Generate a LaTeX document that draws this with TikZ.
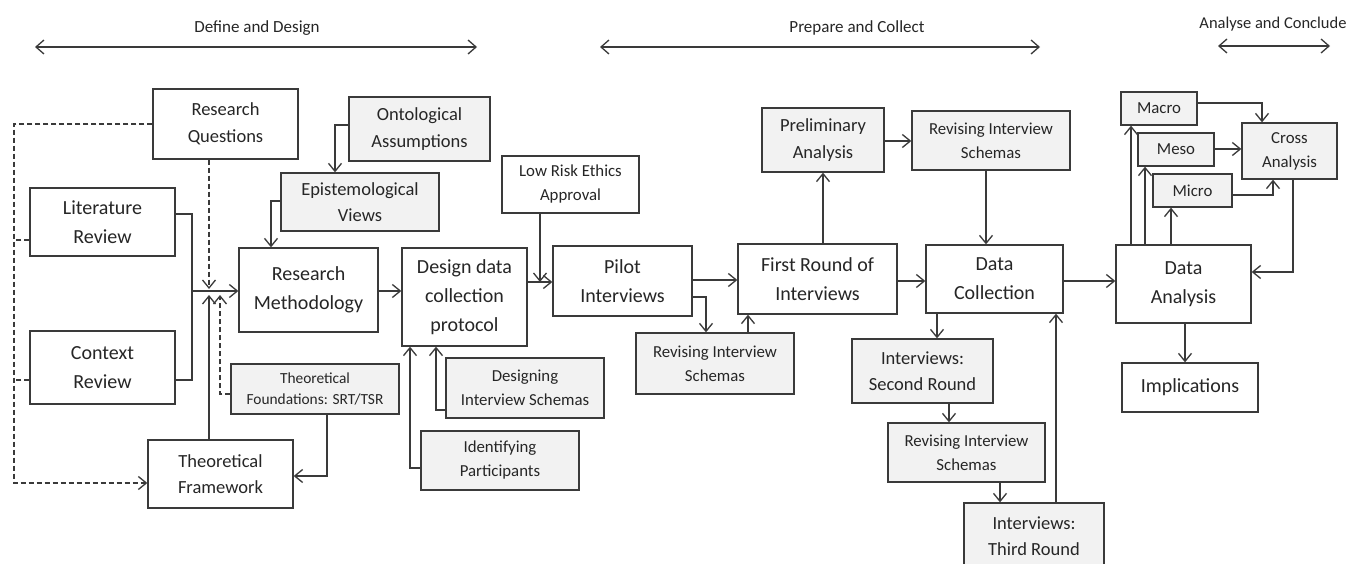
\documentclass[tikz,border=0pt]{standalone}
\usepackage{fontspec}
\setmainfont{Carlito}
\usetikzlibrary{arrows.meta}
\definecolor{edge}{HTML}{3A3A3A}
\definecolor{shade}{HTML}{F2F2F2}
\definecolor{ink}{HTML}{262626}

\tikzset{
  box/.style={draw=edge, line width=1.3pt, fill=white, align=center, inner sep=0pt, text=ink},
  graybox/.style={box, fill=shade},
  fL/.style={font=\fontsize{20}{29}\selectfont},
  fM/.style={font=\fontsize{18.5}{26.5}\selectfont},
  fS/.style={font=\fontsize{16.8}{24}\selectfont},
  fXS/.style={font=\fontsize{15.4}{21}\selectfont},
  plain/.style={draw=edge, line width=1.3pt},
  link/.style={plain, -{Straight Barb[length=8pt,width=13pt]}},
  dplain/.style={plain, dash pattern=on 5pt off 3pt},
  dlink/.style={link, dash pattern=on 5pt off 3pt},
  hdr/.style={font=\fontsize{17}{20}\selectfont, text=ink},
  span/.style={draw=edge, line width=1.3pt, {Straight Barb[length=8pt,width=14pt]}-{Straight Barb[length=8pt,width=14pt]}}
}

\begin{document}
\begin{tikzpicture}[x=1pt,y=-1pt]
\useasboundingbox (0,0) rectangle (1347,564);
\fill[white] (0,0) rectangle (1347,564);

% phase headers
\node[hdr] (hdefine) at (257,28) {Define and Design};
\node[hdr] (hprepare) at (857,28) {Prepare and Collect};
\node[hdr, font=\fontsize{16.5}{20}\selectfont] (hanalyse) at (1273,24) {Analyse and Conclude};
\coordinate (d1) at (35,47);   \coordinate (d2) at (477,47);
\coordinate (p1) at (600,47);  \coordinate (p2) at (1040,47);
\coordinate (a1) at (1218,46); \coordinate (a2) at (1330,46);
\draw[span] (d1) -- (d2);
\draw[span] (p1) -- (p2);
\draw[span] (a1) -- (a2);

% define and design
\node[box, fM, minimum width=145, minimum height=70] (rq) at (225.5,124) {Research\\Questions};
\node[box, fL, minimum width=145, minimum height=68] (lit) at (102.5,222) {Literature\\Review};
\node[box, fL, minimum width=145, minimum height=73] (ctx) at (102.5,367.5) {Context\\Review};
\node[box, fM, minimum width=145, minimum height=68] (tf) at (220.5,474) {Theoretical\\Framework};
\node[graybox, fXS, minimum width=168, minimum height=50] (tfd) at (315,389) {Theoretical\\Foundations: SRT/TSR};
\node[box, fL, minimum width=139, minimum height=84] (rm) at (308.5,290) {Research\\Methodology};
\node[graybox, fM, minimum width=158, minimum height=58] (ev) at (360,202) {Epistemological\\Views};
\node[graybox, fM, minimum width=141, minimum height=64] (oa) at (419.5,129) {Ontological\\Assumptions};
\node[box, fL, minimum width=125, minimum height=98] (ddc) at (464.5,297) {Design data\\collection\\protocol};
\node[graybox, fS, minimum width=158, minimum height=60] (dis) at (525,388) {Designing\\Interview Schemas};
\node[graybox, fS, minimum width=158, minimum height=59] (idp) at (500,460.5) {Identifying\\Participants};

% prepare and collect
\node[box, fS, minimum width=137, minimum height=57] (lre) at (570.5,184.5) {Low Risk Ethics\\Approval};
\node[box, fL, minimum width=139, minimum height=70] (pil) at (622.5,281) {Pilot\\Interviews};
\node[graybox, fS, minimum width=158, minimum height=61] (ris1) at (715,363.5) {Revising Interview\\Schemas};
\node[box, fL, minimum width=159, minimum height=70] (fr) at (817.5,279) {First Round of\\Interviews};
\node[graybox, fM, minimum width=122, minimum height=64] (pa) at (823,140) {Preliminary\\Analysis};
\node[graybox, fS, minimum width=158, minimum height=59] (ris2) at (991,140.5) {Revising Interview\\Schemas};
\node[box, fL, minimum width=137, minimum height=68] (dc) at (994.5,279) {Data\\Collection};
\node[graybox, fM, minimum width=141, minimum height=64] (isr) at (922.5,371) {Interviews:\\Second Round};
\node[graybox, fS, minimum width=157, minimum height=59] (ris3) at (966.5,452.5) {Revising Interview\\Schemas};
\node[graybox, fM, minimum width=140, minimum height=66] (itr) at (1034,536) {Interviews:\\Third Round};

% analyse and conclude
\node[box, fL, minimum width=135, minimum height=78] (da) at (1183.5,284) {Data\\Analysis};
\node[box, fL, minimum width=136, minimum height=49] (imp) at (1190,387.5) {Implications};
\node[graybox, fS, minimum width=76, minimum height=33] (mac) at (1159,108.5) {Macro};
\node[graybox, fS, minimum width=76, minimum height=33] (mes) at (1176,149.5) {Meso};
\node[graybox, fS, minimum width=79, minimum height=33] (mic) at (1192.5,190.5) {Micro};
\node[graybox, fS, minimum width=95, minimum height=56] (cra) at (1289.5,151) {Cross\\Analysis};

% dashed feed into the theoretical framework
\coordinate (dashx) at (14,0);
\draw[dlink] (rq.west) -| (dashx |- 0,483) -- (tf.west |- 0,483);
\draw[dplain] (lit.west |- 0,240) -- (dashx |- 0,240);
\draw[dplain] (ctx.west |- 0,380) -- (dashx |- 0,380);

% reviews merge into the methodology
\coordinate (busx) at (192,0);
\draw[plain] (lit.east |- 0,214) -| (busx |- 0,380) -- (ctx.east |- 0,380);
\draw[link] (busx |- 0,291) -- (rm.west |- 0,291);
\draw[dlink] (rq.south -| 209,0) -- (209,289);
\draw[link] (tf.north -| 209,0) -- (209,295);
\draw[dlink] (tfd.west |- 0,394) -| (220,295);
\draw[link] (tfd.south -| 327,0) |- (tf.east |- 0,476);
\draw[link] (oa.west |- 0,125) -| (ev.north -| 335,0);
\draw[link] (ev.west |- 0,201) -| (rm.north -| 271,0);
\draw[link] (rm.east |- 0,291) -- (ddc.west |- 0,291);
\draw[link] (dis.west |- 0,410) -| (ddc.south -| 436,0);
\draw[link] (idp.west |- 0,468) -| (ddc.south -| 410,0);

% piloting and collection
\draw[link] (ddc.east |- 0,282) -- (pil.west |- 0,282);
\draw[link] (lre.south -| 540,0) -- (540,282);
\draw[link] (pil.east |- 0,280) -- (fr.west |- 0,280);
\draw[link] (pil.east |- 0,297) -| (ris1.north -| 706,0);
\draw[link] (ris1.north -| 748,0) -- (fr.south -| 748,0);
\draw[link] (fr.north -| 823,0) -- (pa.south -| 823,0);
\draw[link] (pa.east |- 0,141) -- (ris2.west |- 0,141);
\draw[link] (ris2.south -| 986,0) -- (dc.north -| 986,0);
\draw[link] (fr.east |- 0,281) -- (dc.west |- 0,281);
\draw[link] (dc.east |- 0,281) -- (da.west |- 0,281);
\draw[link] (dc.south -| 937,0) -- (isr.north -| 937,0);
\draw[link] (isr.south -| 949,0) -- (ris3.north -| 949,0);
\draw[link] (ris3.south -| 1000,0) -- (itr.north -| 1000,0);
\draw[link] (itr.north -| 1056,0) -- (dc.south -| 1056,0);

% analysis
\draw[link] (da.north -| 1131,0) -- (mac.south -| 1131,0);
\draw[link] (da.north -| 1145,0) -- (mes.south -| 1145,0);
\draw[link] (da.north -| 1171,0) -- (mic.south -| 1171,0);
\draw[link] (mac.east |- 0,103) -| (cra.north -| 1262,0);
\draw[link] (mes.east |- 0,149) -- (cra.west |- 0,149);
\draw[link] (mic.east |- 0,195) -| (cra.south -| 1273,0);
\draw[link] (cra.south -| 1293,0) |- (da.east |- 0,272);
\draw[link] (da.south -| 1185,0) -- (imp.north -| 1185,0);
\end{tikzpicture}
\end{document}
